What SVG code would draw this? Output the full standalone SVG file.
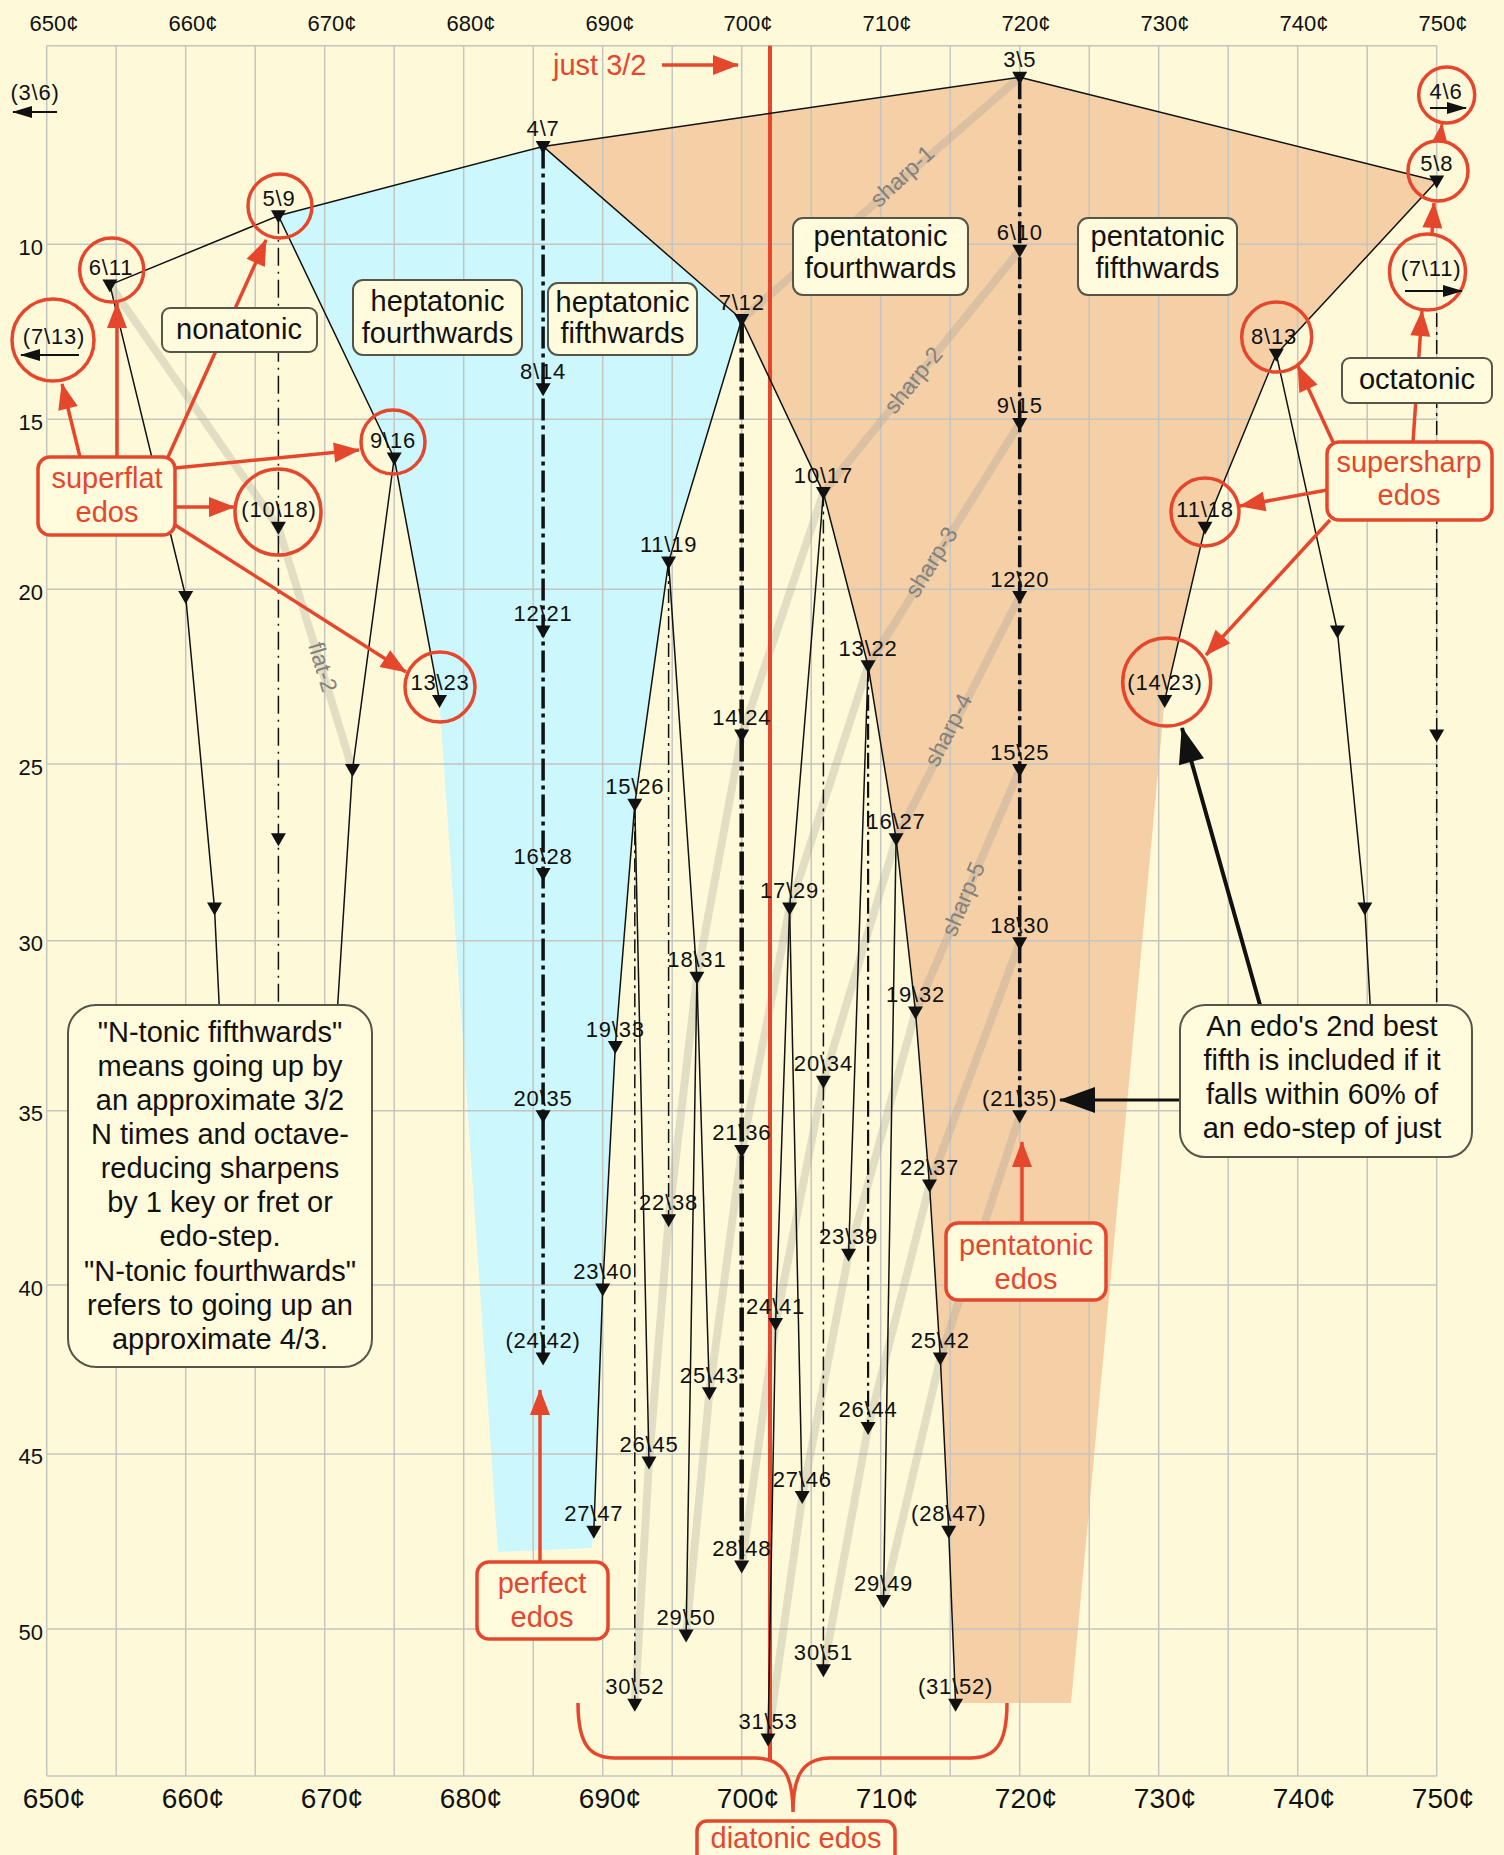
<svg xmlns="http://www.w3.org/2000/svg" width="1504" height="1855" viewBox="0 0 1504 1855">
<defs>
<style>
.grid{stroke:#C5C5C0;stroke-width:1.5;fill:none}
.ln{stroke:#111;stroke-width:1.5;fill:none;stroke-linejoin:round}
.dd0{stroke:#111;stroke-width:4.5;fill:none;stroke-dasharray:24 5 4 5}
.dd1{stroke:#111;stroke-width:3.5;fill:none;stroke-dasharray:22 5 4 5}
.dd2{stroke:#111;stroke-width:1.5;fill:none;stroke-dasharray:14 5 3 5}
.dd3{stroke:#111;stroke-width:2.2;fill:none;stroke-dasharray:16 5 3 5}
.dsh{stroke:#111;stroke-width:1.5;fill:none;stroke-dasharray:18 6 2 6}
.gr{stroke:#A09E94;stroke-opacity:.3;stroke-width:8;fill:none;stroke-linejoin:round;stroke-linecap:round}
.gt{font-family:"Liberation Sans",Arial,sans-serif;font-size:23px;fill:#84827A;text-anchor:middle;dominant-baseline:central}
.lbl{font-family:"Liberation Sans",Arial,sans-serif;font-size:22px;letter-spacing:0.8px;text-anchor:middle;fill:#111}
.ax{font-family:"Liberation Sans",Arial,sans-serif;font-size:22px;fill:#111;text-anchor:middle}
.axb{font-family:"Liberation Sans",Arial,sans-serif;font-size:28px;fill:#111;text-anchor:middle}
.ay{font-family:"Liberation Sans",Arial,sans-serif;font-size:22px;fill:#111;text-anchor:end}
.bt{font-family:"Liberation Sans",Arial,sans-serif;font-size:29px;fill:#111;text-anchor:middle}
.rt{font-family:"Liberation Sans",Arial,sans-serif;font-size:29px;fill:#E5472D;text-anchor:middle}
.box{fill:#FFFBDC;stroke:#55554A;stroke-width:2}
.rbox{fill:#FFFBDC;stroke:#E5472D;stroke-width:3.5}
.rc{fill:none;stroke:#E5472D;stroke-width:3.5}
.ra{stroke:#E5472D;stroke-width:3.5;fill:none;marker-end:url(#mr)}
.ras{stroke:#E5472D;stroke-width:3;fill:none;marker-end:url(#mrs)}
.ba{stroke:#111;stroke-width:2;fill:none;marker-end:url(#mbs)}
.bb{stroke:#111;stroke-width:4;fill:none;marker-end:url(#mbb)}
</style>
<marker id="mr" markerUnits="userSpaceOnUse" markerWidth="26" markerHeight="20" refX="25" refY="10" orient="auto" overflow="visible"><path d="M0,0 L26,10 L0,20 Z" fill="#E5472D"/></marker>
<marker id="mrs" markerUnits="userSpaceOnUse" markerWidth="18" markerHeight="14" refX="17" refY="7" orient="auto" overflow="visible"><path d="M0,0 L18,7 L0,14 Z" fill="#E5472D"/></marker>
<marker id="mbs" markerUnits="userSpaceOnUse" markerWidth="20" markerHeight="12" refX="19" refY="6" orient="auto" overflow="visible"><path d="M0,0 L20,6 L0,12 Z" fill="#111"/></marker>
<marker id="mbb" markerUnits="userSpaceOnUse" markerWidth="36" markerHeight="26" refX="35" refY="13" orient="auto" overflow="visible"><path d="M0,0 L36,13 L0,26 Z" fill="#111"/></marker>
<path id="t" d="M-7.5,-5.5 L7.5,-5.5 L0,7.5 Z" fill="#111"/>
</defs>

<rect x="0" y="0" width="1504" height="1855" fill="#FEFAD9"/>

<g id="regions">
<polygon fill="#CBF7FD" points="278.4,215.7 543.1,146.4 741.7,319.5 668.6,561.9 634.8,804.2 615.3,1046.6 602.7,1288.9 593.8,1531.2 592,1548 498,1552 439.5,700.4 394.2,458"/>
<polygon fill="#F5CFA6" points="543.1,146.4 1019.7,77.2 1436.7,181.1 1276.3,354.2 1205,527.3 1164.7,700.4 1071,1703 955.6,1703 948.7,1531.2 940.3,1358.1 929.5,1185 915.5,1011.9 896.1,838.8 868.1,665.7 823.4,492.6 741.7,319.5"/>
</g>

<g id="grid">
<path class="grid" d="M46.7,45.7V1776 M116.2,45.7V1776 M185.7,45.7V1776 M255.2,45.7V1776 M324.7,45.7V1776 M394.2,45.7V1776 M463.7,45.7V1776 M533.2,45.7V1776 M602.7,45.7V1776 M672.2,45.7V1776 M741.7,45.7V1776 M811.2,45.7V1776 M880.7,45.7V1776 M950.2,45.7V1776 M1019.7,45.7V1776 M1089.2,45.7V1776 M1158.7,45.7V1776 M1228.2,45.7V1776 M1297.7,45.7V1776 M1367.2,45.7V1776 M1436.7,45.7V1776"/>
<path class="grid" d="M46.7,45.7H1436.7 M46.7,244.3H1436.7 M46.7,419.3H1436.7 M46.7,589.3H1436.7 M46.7,764H1436.7 M46.7,940.7H1436.7 M46.7,1110.7H1436.7 M46.7,1285H1436.7 M46.7,1454H1436.7 M46.7,1629H1436.7 M46.7,1776H1436.7"/>
<text class="ax" x="54" y="31">650¢</text><text class="ax" x="193" y="31">660¢</text><text class="ax" x="332" y="31">670¢</text><text class="ax" x="471" y="31">680¢</text><text class="ax" x="610" y="31">690¢</text><text class="ax" x="748" y="31">700¢</text><text class="ax" x="887" y="31">710¢</text><text class="ax" x="1026" y="31">720¢</text><text class="ax" x="1165" y="31">730¢</text><text class="ax" x="1304" y="31">740¢</text><text class="ax" x="1443" y="31">750¢</text>
<text class="axb" x="54" y="1808">650¢</text><text class="axb" x="193" y="1808">660¢</text><text class="axb" x="332" y="1808">670¢</text><text class="axb" x="471" y="1808">680¢</text><text class="axb" x="610" y="1808">690¢</text><text class="axb" x="748" y="1808">700¢</text><text class="axb" x="887" y="1808">710¢</text><text class="axb" x="1026" y="1808">720¢</text><text class="axb" x="1165" y="1808">730¢</text><text class="axb" x="1304" y="1808">740¢</text><text class="axb" x="1443" y="1808">750¢</text>
<text class="ay" x="43" y="255">10</text><text class="ay" x="43" y="430">15</text><text class="ay" x="43" y="600">20</text><text class="ay" x="43" y="775">25</text><text class="ay" x="43" y="951">30</text><text class="ay" x="43" y="1121">35</text><text class="ay" x="43" y="1296">40</text><text class="ay" x="43" y="1464">45</text><text class="ay" x="43" y="1640">50</text>
</g>

<g id="sharpness-lines">
<polyline class="gr" points="1019.7,77.2 741.7,319.5"/>
<polyline class="gr" points="1019.7,250.3 823.4,492.6 741.7,735 696.9,977.3 668.6,1219.7 649,1462 634.8,1704.3"/>
<polyline class="gr" points="1019.7,423.4 868.1,665.7 789.6,908.1 741.7,1150.4 709.4,1392.8 686.1,1635.1"/>
<polyline class="gr" points="1019.7,596.5 896.1,838.8 823.4,1081.2 775.6,1323.5 741.7,1565.9"/>
<polyline class="gr" points="1019.7,769.6 915.5,1011.9 848.6,1254.3 802.2,1496.6 768,1739"/>
<polyline class="gr" points="1019.7,942.7 929.5,1185 868.1,1427.4 823.4,1669.7"/>
<polyline class="gr" points="1019.7,1115.8 940.3,1358.1 883.5,1600.5"/>
<polyline class="gr" points="109.9,284.9 278.4,527.3 352.5,769.6"/>
<text class="gt" transform="translate(902,176) rotate(-43)">sharp-1</text>
<text class="gt" transform="translate(913,380) rotate(-51)">sharp-2</text>
<text class="gt" transform="translate(931,562) rotate(-58)">sharp-3</text>
<text class="gt" transform="translate(948,730) rotate(-63)">sharp-4</text>
<text class="gt" transform="translate(963,899) rotate(-67)">sharp-5</text>
<text class="gt" transform="translate(323,667) rotate(73)">flat-2</text>
</g>

<g id="just-fifth">
<line x1="770" y1="45.7" x2="770" y2="1760" stroke="#E5472D" stroke-width="4"/>
<text class="rt" x="553" y="75" style="text-anchor:start">just 3/2</text>
<line class="ra" x1="662" y1="65" x2="738" y2="65"/>
</g>

<g id="connectors">
<polyline class="ln" points="109.9,284.9 278.4,215.7 543.1,146.4 1019.7,77.2 1436.7,181.1"/>
<polyline class="ln" points="543.1,146.4 741.7,319.5 823.4,492.6 868.1,665.7 896.1,838.8 915.5,1011.9 929.5,1185 940.3,1358.1 948.7,1531.2 955.6,1704.3"/>
<polyline class="ln" points="741.7,319.5 668.6,561.9 634.8,804.2 615.3,1046.6 602.7,1288.9 593.8,1531.2"/>
<polyline class="ln" points="668.6,561.9 696.9,977.3 709.4,1392.8"/>
<polyline class="ln" points="696.9,977.3 686.1,1635.1"/>
<polyline class="ln" points="634.8,804.2 649,1462"/>
<polyline class="ln" points="823.4,492.6 789.6,908.1 775.6,1323.5 768,1739"/>
<polyline class="ln" points="789.6,908.1 802.2,1496.6"/>
<polyline class="ln" points="868.1,665.7 848.6,1254.3"/>
<polyline class="ln" points="896.1,838.8 883.5,1600.5"/>
<polyline class="ln" points="109.9,284.9 185.7,596.5 214.5,908.1 219.2,1005"/>
<polyline class="ln" points="278.4,215.7 394.2,458 439.5,700.4"/>
<polyline class="ln" points="394.2,458 352.5,769.6 337.7,1005"/>
<polyline class="ln" points="1436.7,181.1 1276.3,354.2 1205,527.3 1164.7,700.4"/>
<polyline class="ln" points="1276.3,354.2 1337.4,631.1 1364.8,908.1 1370.2,1005"/>
<line class="dd1" x1="1019.7" y1="77.2" x2="1019.7" y2="1115.8"/>
<line class="dd1" x1="543.1" y1="146.4" x2="543.1" y2="1358.1"/>
<line class="dd0" x1="741.7" y1="319.5" x2="741.7" y2="1565.9"/>
<line class="dd2" x1="668.6" y1="561.9" x2="668.6" y2="1219.7"/>
<line class="dd2" x1="823.4" y1="492.6" x2="823.4" y2="1669.7"/>
<line class="dd3" x1="868.1" y1="665.7" x2="868.1" y2="1427.4"/>
<line class="dd2" x1="634.8" y1="804.2" x2="634.8" y2="1704.3"/>
<line class="dsh" x1="278.4" y1="215.7" x2="278.4" y2="1005"/>
<line class="dd2" x1="1436.7" y1="313" x2="1436.7" y2="1005"/>
</g>

<g id="offchart">
<g id="n3_6"><text class="lbl" x="35" y="100">(3\6)</text><line class="ba" x1="57" y1="112" x2="13" y2="112"/></g>
<g id="n7_13"><circle class="rc" cx="53" cy="340" r="41"/><text class="lbl" x="54" y="344">(7\13)</text><line class="ba" x1="79" y1="355" x2="21" y2="355"/></g>
<g id="n4_6"><circle class="rc" cx="1446.7" cy="95" r="28"/><text class="lbl" x="1446" y="99">4\6</text><line class="ba" x1="1430" y1="108" x2="1466" y2="108"/></g>
<g id="n7_11"><circle class="rc" cx="1427.5" cy="272" r="38"/><text class="lbl" x="1431" y="276">(7\11)</text><line class="ba" x1="1405" y1="291" x2="1462" y2="291"/></g>
</g>

<g id="n3_5"><use href="#t" x="1019.7" y="77.2"/><text class="lbl" x="1019.7" y="67">3\5</text></g>
<g id="n4_7"><use href="#t" x="543.1" y="146.4"/><text class="lbl" x="543.1" y="136">4\7</text></g>
<g id="n5_8"><use href="#t" x="1436.7" y="181.1"/><text class="lbl" x="1436.7" y="171">5\8</text><circle class="rc" cx="1438" cy="171" r="30"/></g>
<g id="n5_9"><use href="#t" x="278.4" y="215.7"/><text class="lbl" x="279" y="206">5\9</text><circle class="rc" cx="280" cy="206" r="32"/></g>
<g id="n6_10"><use href="#t" x="1019.7" y="250.3"/><text class="lbl" x="1019.7" y="240">6\10</text></g>
<g id="n6_11"><use href="#t" x="109.9" y="284.9"/><text class="lbl" x="111" y="275">6\11</text><circle class="rc" cx="111.7" cy="270" r="32"/></g>
<g id="n7_12"><use href="#t" x="741.7" y="319.5"/><text class="lbl" x="741.7" y="309.5">7\12</text></g>
<g id="n8_13"><use href="#t" x="1276.3" y="354.2"/><text class="lbl" x="1274" y="344">8\13</text><circle class="rc" cx="1276.7" cy="337" r="35"/></g>
<g id="n8_14"><use href="#t" x="543.1" y="388.8"/><text class="lbl" x="543.1" y="379">8\14</text></g>
<g id="n9_15"><use href="#t" x="1019.7" y="423.4"/><text class="lbl" x="1019.7" y="413">9\15</text></g>
<g id="n9_16"><use href="#t" x="394.2" y="458"/><text class="lbl" x="393" y="448">9\16</text><circle class="rc" cx="393" cy="442" r="32"/></g>
<g id="n10_17"><use href="#t" x="823.4" y="492.6"/><text class="lbl" x="823.4" y="482.6">10\17</text></g>
<g id="n10_18"><use href="#t" x="278.4" y="527.3"/><text class="lbl" x="279" y="517">(10\18)</text><circle class="rc" cx="278" cy="512" r="43"/></g>
<g id="n11_18"><use href="#t" x="1205" y="527.3"/><text class="lbl" x="1205" y="517">11\18</text><circle class="rc" cx="1205" cy="512" r="34"/></g>
<g id="n11_19"><use href="#t" x="668.6" y="561.9"/><text class="lbl" x="668.6" y="552">11\19</text></g>
<g id="n11_20"><use href="#t" x="185.7" y="596.5"/></g>
<g id="n12_20"><use href="#t" x="1019.7" y="596.5"/><text class="lbl" x="1019.7" y="586.5">12\20</text></g>
<g id="n12_21"><use href="#t" x="543.1" y="631.1"/><text class="lbl" x="543.1" y="621">12\21</text></g>
<g id="n13_21"><use href="#t" x="1337.4" y="631.1"/></g>
<g id="n13_22"><use href="#t" x="868.1" y="665.7"/><text class="lbl" x="868.1" y="655.7">13\22</text></g>
<g id="n13_23"><use href="#t" x="439.5" y="700.4"/><text class="lbl" x="440" y="690.4">13\23</text><circle class="rc" cx="440" cy="687" r="35"/></g>
<g id="n14_23"><use href="#t" x="1164.7" y="700.4"/><text class="lbl" x="1165" y="690.4">(14\23)</text><circle class="rc" cx="1166.7" cy="682" r="44"/></g>
<g id="n14_24"><use href="#t" x="741.7" y="735"/><text class="lbl" x="741.7" y="725">14\24</text></g>
<g id="n14_25"><use href="#t" x="352.5" y="769.6"/></g>
<g id="n15_24"><use href="#t" x="1436.7" y="735"/></g>
<g id="n15_25"><use href="#t" x="1019.7" y="769.6"/><text class="lbl" x="1019.7" y="759.6">15\25</text></g>
<g id="n15_26"><use href="#t" x="634.8" y="804.2"/><text class="lbl" x="634.8" y="794">15\26</text></g>
<g id="n15_27"><use href="#t" x="278.4" y="838.8"/></g>
<g id="n16_27"><use href="#t" x="896.1" y="838.8"/><text class="lbl" x="896.1" y="829">16\27</text></g>
<g id="n16_28"><use href="#t" x="543.1" y="873.5"/><text class="lbl" x="543.1" y="863.5">16\28</text></g>
<g id="n16_29"><use href="#t" x="214.5" y="908.1"/></g>
<g id="n17_29"><use href="#t" x="789.6" y="908.1"/><text class="lbl" x="789.6" y="898">17\29</text></g>
<g id="n18_29"><use href="#t" x="1364.8" y="908.1"/></g>
<g id="n18_30"><use href="#t" x="1019.7" y="942.7"/><text class="lbl" x="1019.7" y="932.7">18\30</text></g>
<g id="n18_31"><use href="#t" x="696.9" y="977.3"/><text class="lbl" x="696.9" y="967.3">18\31</text></g>
<g id="n19_32"><use href="#t" x="915.5" y="1011.9"/><text class="lbl" x="915.5" y="1002">19\32</text></g>
<g id="n19_33"><use href="#t" x="615.3" y="1046.6"/><text class="lbl" x="615.3" y="1036.6">19\33</text></g>
<g id="n20_34"><use href="#t" x="823.4" y="1081.2"/><text class="lbl" x="823.4" y="1071">20\34</text></g>
<g id="n20_35"><use href="#t" x="543.1" y="1115.8"/><text class="lbl" x="543.1" y="1105.8">20\35</text></g>
<g id="n21_35"><use href="#t" x="1019.7" y="1115.8"/><text class="lbl" x="1019.7" y="1105.8">(21\35)</text></g>
<g id="n21_36"><use href="#t" x="741.7" y="1150.4"/><text class="lbl" x="741.7" y="1140.4">21\36</text></g>
<g id="n22_37"><use href="#t" x="929.5" y="1185"/><text class="lbl" x="929.5" y="1175">22\37</text></g>
<g id="n22_38"><use href="#t" x="668.6" y="1219.7"/><text class="lbl" x="668.6" y="1209.7">22\38</text></g>
<g id="n23_39"><use href="#t" x="848.6" y="1254.3"/><text class="lbl" x="848.6" y="1244.3">23\39</text></g>
<g id="n23_40"><use href="#t" x="602.7" y="1288.9"/><text class="lbl" x="602.7" y="1279">23\40</text></g>
<g id="n24_41"><use href="#t" x="775.6" y="1323.5"/><text class="lbl" x="775.6" y="1313.5">24\41</text></g>
<g id="n24_42"><use href="#t" x="543.1" y="1358.1"/><text class="lbl" x="543.1" y="1348">(24\42)</text></g>
<g id="n25_42"><use href="#t" x="940.3" y="1358.1"/><text class="lbl" x="940.3" y="1348">25\42</text></g>
<g id="n25_43"><use href="#t" x="709.4" y="1392.8"/><text class="lbl" x="709.4" y="1382.8">25\43</text></g>
<g id="n26_44"><use href="#t" x="868.1" y="1427.4"/><text class="lbl" x="868.1" y="1417.4">26\44</text></g>
<g id="n26_45"><use href="#t" x="649" y="1462"/><text class="lbl" x="649" y="1452">26\45</text></g>
<g id="n27_46"><use href="#t" x="802.2" y="1496.6"/><text class="lbl" x="802.2" y="1486.6">27\46</text></g>
<g id="n27_47"><use href="#t" x="593.8" y="1531.2"/><text class="lbl" x="593.8" y="1521">27\47</text></g>
<g id="n28_47"><use href="#t" x="948.7" y="1531.2"/><text class="lbl" x="948.7" y="1521">(28\47)</text></g>
<g id="n28_48"><use href="#t" x="741.7" y="1565.9"/><text class="lbl" x="741.7" y="1556">28\48</text></g>
<g id="n29_49"><use href="#t" x="883.5" y="1600.5"/><text class="lbl" x="883.5" y="1590.5">29\49</text></g>
<g id="n29_50"><use href="#t" x="686.1" y="1635.1"/><text class="lbl" x="686.1" y="1625">29\50</text></g>
<g id="n30_51"><use href="#t" x="823.4" y="1669.7"/><text class="lbl" x="823.4" y="1659.7">30\51</text></g>
<g id="n30_52"><use href="#t" x="634.8" y="1704.3"/><text class="lbl" x="634.8" y="1694.3">30\52</text></g>
<g id="n31_52"><use href="#t" x="955.6" y="1704.3"/><text class="lbl" x="955.6" y="1694.3">(31\52)</text></g>
<g id="n31_53"><use href="#t" x="768" y="1739"/><text class="lbl" x="768" y="1729">31\53</text></g>

<g id="red-arrows">
<line class="ra" x1="80" y1="457" x2="62" y2="384"/>
<line class="ra" x1="117" y1="457" x2="117" y2="303"/>
<line class="ra" x1="168" y1="457" x2="266" y2="240"/>
<line class="ra" x1="175" y1="468" x2="359" y2="450"/>
<line class="ra" x1="175" y1="507" x2="234" y2="507"/>
<line class="ra" x1="175" y1="525" x2="406" y2="672"/>
<line class="ra" x1="1333" y1="442" x2="1298" y2="366"/>
<line class="ra" x1="1413" y1="442" x2="1422" y2="311"/>
<line class="ra" x1="1327" y1="490" x2="1240" y2="506"/>
<line class="ra" x1="1330" y1="520" x2="1206" y2="655"/>
<line class="ra" x1="1432" y1="234" x2="1434" y2="203"/>
<line class="ras" x1="1440" y1="141" x2="1442" y2="124"/>
<line class="ra" x1="540" y1="1562" x2="540" y2="1390"/>
<line class="ra" x1="1022" y1="1223" x2="1022" y2="1142"/>
<path d="M578,1703 C578,1745 590,1758 615,1758 L755,1758 C783,1758 793,1775 793,1812 C793,1775 803,1758 831,1758 L970,1758 C995,1758 1007,1745 1007,1703" fill="none" stroke="#E5472D" stroke-width="3.5"/>
</g>

<g id="black-arrows">
<line class="bb" x1="1260" y1="1005" x2="1182" y2="728"/>
<line class="bb" x1="1180" y1="1100" x2="1060" y2="1100" style="stroke-width:3"/>
</g>

<g id="label-boxes">
<g id="b-nona"><rect class="box" x="162" y="308" width="155" height="44" rx="8"/><text class="bt" x="239" y="339">nonatonic</text></g>
<g id="b-hept4"><rect class="box" x="353" y="280" width="169" height="75" rx="10"/><text class="bt" x="437.5" y="311">heptatonic</text><text class="bt" x="437.5" y="343">fourthwards</text></g>
<g id="b-hept5"><rect class="box" x="548" y="283" width="149" height="72" rx="10"/><text class="bt" x="622.5" y="312">heptatonic</text><text class="bt" x="622.5" y="343">fifthwards</text></g>
<g id="b-pent4"><rect class="box" x="793" y="218" width="175" height="77" rx="10"/><text class="bt" x="880.5" y="246">pentatonic</text><text class="bt" x="880.5" y="278">fourthwards</text></g>
<g id="b-pent5"><rect class="box" x="1078" y="218" width="159" height="77" rx="10"/><text class="bt" x="1157.5" y="246">pentatonic</text><text class="bt" x="1157.5" y="278">fifthwards</text></g>
<g id="b-octa"><rect class="box" x="1342" y="358" width="150" height="45" rx="8"/><text class="bt" x="1417" y="389">octatonic</text></g>
<g id="b-left"><rect class="box" x="68" y="1005" width="304" height="362" rx="28"/>
<text class="bt" x="220" y="1042">"N-tonic fifthwards"</text>
<text class="bt" x="220" y="1076">means going up by</text>
<text class="bt" x="220" y="1110">an approximate 3/2</text>
<text class="bt" x="220" y="1144">N times and octave-</text>
<text class="bt" x="220" y="1178">reducing sharpens</text>
<text class="bt" x="220" y="1212">by 1 key or fret or</text>
<text class="bt" x="220" y="1246">edo-step.</text>
<text class="bt" x="220" y="1281">"N-tonic fourthwards"</text>
<text class="bt" x="220" y="1315">refers to going up an</text>
<text class="bt" x="220" y="1349">approximate 4/3.</text>
</g>
<g id="b-right"><rect class="box" x="1180" y="1005" width="292" height="152" rx="25"/>
<text class="bt" x="1322" y="1036">An edo's 2nd best</text>
<text class="bt" x="1322" y="1070">fifth is included if it</text>
<text class="bt" x="1322" y="1104">falls within 60% of</text>
<text class="bt" x="1322" y="1138">an edo-step of just</text>
</g>
</g>

<g id="red-boxes">
<g id="r-superflat"><rect class="rbox" x="38" y="457" width="137" height="78" rx="12"/><text class="rt" x="107" y="488">superflat</text><text class="rt" x="107" y="522">edos</text></g>
<g id="r-supersharp"><rect class="rbox" x="1327" y="442" width="165" height="78" rx="12"/><text class="rt" x="1409" y="472">supersharp</text><text class="rt" x="1409" y="505">edos</text></g>
<g id="r-perfect"><rect class="rbox" x="477" y="1562" width="131" height="77" rx="12"/><text class="rt" x="542" y="1593">perfect</text><text class="rt" x="542" y="1627">edos</text></g>
<g id="r-pentatonic"><rect class="rbox" x="946" y="1223" width="160" height="77" rx="12"/><text class="rt" x="1026" y="1255">pentatonic</text><text class="rt" x="1026" y="1289">edos</text></g>
<g id="r-diatonic"><rect class="rbox" x="697" y="1821" width="198" height="44" rx="10"/><text class="rt" x="796" y="1848">diatonic edos</text></g>
</g>
</svg>
